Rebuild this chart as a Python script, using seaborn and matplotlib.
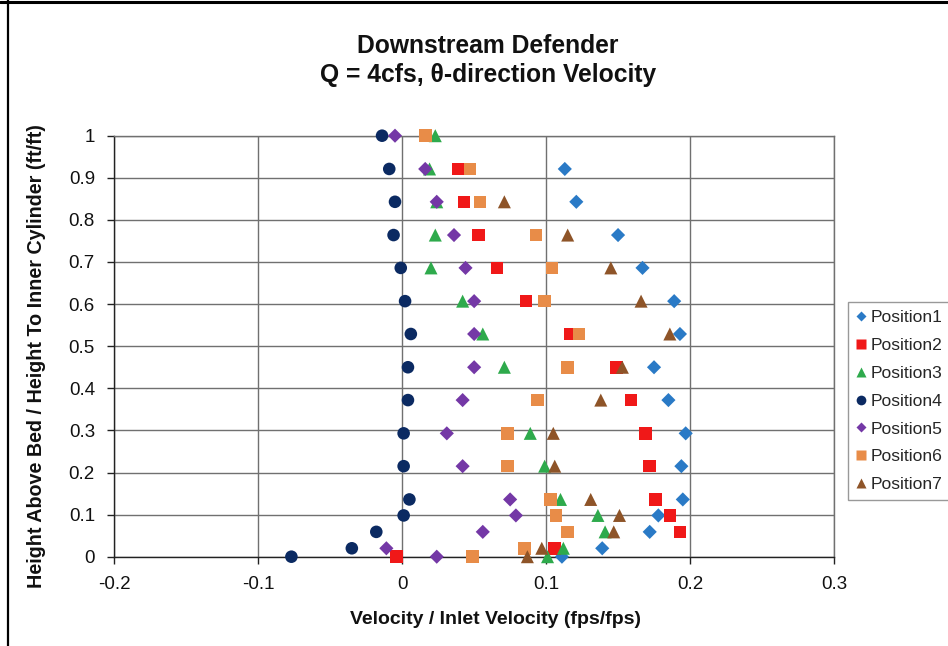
import numpy as np
import pandas as pd
import matplotlib
matplotlib.use("Agg")
import matplotlib.pyplot as plt
import seaborn as sns
from matplotlib.lines import Line2D
from matplotlib.ticker import FixedLocator, FixedFormatter

nan = np.nan

# ---------------- data ----------------
heights = [1.0, 0.921, 0.843, 0.764, 0.686, 0.607, 0.529, 0.450,
           0.372, 0.293, 0.215, 0.136, 0.098, 0.059, 0.020, 0.0]

position1 = [nan, 0.113, 0.121, 0.150, 0.167, 0.189, 0.193, 0.175,
             0.185, 0.197, 0.194, 0.195, 0.178, 0.172, 0.139, 0.111]
position2 = [nan, 0.039, 0.043, 0.053, 0.066, 0.086, 0.117, 0.149,
             0.159, 0.169, 0.172, 0.176, 0.186, 0.193, 0.106, -0.004]
position3 = [0.023, 0.019, 0.024, 0.023, 0.020, 0.042, 0.056, 0.071,
             nan, 0.089, 0.099, 0.110, 0.136, 0.141, 0.112, 0.101]
position4 = [-0.014, -0.009, -0.005, -0.006, -0.001, 0.002, 0.006, 0.004,
             0.004, 0.001, 0.001, 0.005, 0.001, -0.018, -0.035, -0.077]
position5 = [-0.005, 0.016, 0.024, 0.036, 0.044, 0.050, 0.050, 0.050,
             0.042, 0.031, 0.042, 0.075, 0.079, 0.056, -0.011, 0.024]
position6 = [0.016, 0.047, 0.054, 0.093, 0.104, 0.099, 0.123, 0.115,
             0.094, 0.073, 0.073, 0.103, 0.107, 0.115, 0.085, 0.049]
position7 = [nan, nan, 0.071, 0.115, 0.145, 0.166, 0.186, 0.153,
             0.138, 0.105, 0.106, 0.131, 0.151, 0.147, 0.097, 0.087]

series_names = ["Position1", "Position2", "Position3", "Position4",
                "Position5", "Position6", "Position7"]
series_values = [position1, position2, position3, position4,
                 position5, position6, position7]

x_ticks = [-0.2, -0.1, 0.0, 0.1, 0.2, 0.3]
x_tick_labels = ["-0.2", "-0.1", "0", "0.1", "0.2", "0.3"]
y_ticks = [0.0, 0.1, 0.2, 0.3, 0.4, 0.5, 0.6, 0.7, 0.8, 0.9, 1.0]
y_tick_labels = ["0", "0.1", "0.2", "0.3", "0.4", "0.5", "0.6",
                 "0.7", "0.8", "0.9", "1"]

title_text = "Downstream Defender\nQ = 4cfs, \u03b8-direction Velocity"
x_label = "Velocity / Inlet Velocity (fps/fps)"
y_label = "Height Above Bed / Height To Inner Cylinder (ft/ft)"

# ---------------- styles ----------------
colors = ["#2A7AC6", "#F01818", "#2EAA4C", "#0B2A62",
          "#7438A6", "#E88C48", "#8E5428"]
markers = ["D", "s", "^", "o", "D", "s", "^"]
sizes = [52, 82, 88, 82, 52, 82, 88]
legend_sizes = [5, 7, 7, 7, 5, 7, 7]

sns.set_theme(style="white")
plt.rcParams["font.family"] = ["Liberation Sans", "DejaVu Sans"]
plt.rcParams["axes.unicode_minus"] = False

W, H = 948, 646
fig = plt.figure(figsize=(W / 100, H / 100), dpi=100)
fig.patch.set_facecolor("white")

left_px, right_px = 114.4, 833.9
top_px, bottom_px = 135.7, 556.7
ax = fig.add_axes([left_px / W, 1 - bottom_px / H,
                   (right_px - left_px) / W, (bottom_px - top_px) / H])

rows = []
for name, vals in zip(series_names, series_values):
    for h, v in zip(heights, vals):
        rows.append({"series": name, "velocity": v, "height": h})
df = pd.DataFrame(rows).dropna()

for name, c, m, s in zip(series_names, colors, markers, sizes):
    sub = df[df["series"] == name]
    sns.scatterplot(data=sub, x="velocity", y="height", ax=ax, color=c,
                    marker=m, s=s, linewidth=0, edgecolor="none",
                    legend=False, clip_on=False, zorder=3)

ax.set_xlim(-0.2, 0.3)
ax.set_ylim(0, 1)
ax.xaxis.set_major_locator(FixedLocator(x_ticks))
ax.xaxis.set_major_formatter(FixedFormatter(x_tick_labels))
ax.yaxis.set_major_locator(FixedLocator(y_ticks))
ax.yaxis.set_major_formatter(FixedFormatter(y_tick_labels))

ax.grid(True, color="#707070", linewidth=1.0)
ax.set_axisbelow(True)
for side in ["top", "right"]:
    ax.spines[side].set_color("#707070")
    ax.spines[side].set_linewidth(1.0)
for side in ["left", "bottom"]:
    ax.spines[side].set_color("#222222")
    ax.spines[side].set_linewidth(1.0)

ax.tick_params(axis="both", which="major", direction="out", length=5,
               width=1, color="#222222", labelsize=13.5,
               labelcolor="#111111", left=True, bottom=True)
ax.tick_params(axis="x", pad=9)
ax.tick_params(axis="y", pad=9)

ax.set_xlabel(x_label, fontsize=14, fontweight="bold", color="#111111")
ax.set_ylabel(y_label, fontsize=14.2, fontweight="bold", color="#111111")
ax.xaxis.label.set_va("center")
ax.yaxis.label.set_va("center")
ax.xaxis.set_label_coords((496 - left_px) / (right_px - left_px),
                          (bottom_px - 619) / (bottom_px - top_px))
ax.yaxis.set_label_coords((37 - left_px) / (right_px - left_px),
                          (bottom_px - 356) / (bottom_px - top_px))

fig.text(488 / W, 1 - 60.5 / H, title_text, ha="center", va="center",
         fontsize=17.7, fontweight="bold", color="#111111", linespacing=1.25)

handles = [Line2D([0], [0], marker=m, color="none", markerfacecolor=c,
                  markeredgecolor="none", markersize=ms, linestyle="none")
           for m, c, ms in zip(markers, colors, legend_sizes)]
leg = fig.legend(handles, series_names, loc="upper left",
                 bbox_to_anchor=(848 / W, 1 - 302 / H),
                 bbox_transform=fig.transFigure, frameon=True,
                 fancybox=False, shadow=False, fontsize=12.6,
                 handlelength=0.6, handletextpad=0.25, borderpad=0.45,
                 labelspacing=0.72, borderaxespad=0)
leg.get_frame().set_edgecolor("#808080")
leg.get_frame().set_linewidth(1.0)

# outer frame fragments seen at top and left of the picture
fig.add_artist(Line2D([0, 1], [1 - 1.5 / H, 1 - 1.5 / H],
                      transform=fig.transFigure, color="black", linewidth=2.2))
fig.add_artist(Line2D([7.5 / W, 7.5 / W], [0, 1],
                      transform=fig.transFigure, color="black", linewidth=1.6))

fig.savefig("out.png", dpi=100, facecolor="white")
